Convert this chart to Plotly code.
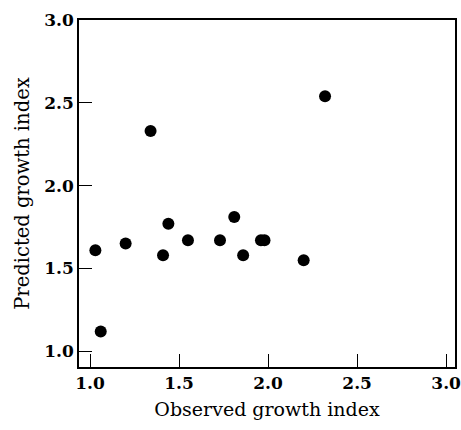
import plotly.graph_objects as go

observed = [1.03, 1.06, 1.20, 1.34, 1.41, 1.44, 1.55, 1.73, 1.81, 1.86, 1.96, 1.98, 2.20, 2.32]
predicted = [1.61, 1.12, 1.65, 2.33, 1.58, 1.77, 1.67, 1.67, 1.81, 1.58, 1.67, 1.67, 1.55, 2.54]
tick_vals = [1.0, 1.5, 2.0, 2.5, 3.0]
tick_text = ["1.0", "1.5", "2.0", "2.5", "3.0"]

fig = go.Figure(go.Scatter(
    x=observed, y=predicted, mode="markers",
    marker=dict(color="black", size=12),
    showlegend=False,
))

serif = "DejaVu Serif"
axis_common = dict(
    showgrid=False, zeroline=False, showline=True, linecolor="black", linewidth=1.5,
    mirror=True, ticks="inside", ticklen=13, tickwidth=1.2, tickcolor="black",
    tickvals=tick_vals, ticktext=tick_text, automargin=False,
    ticklabeloverflow="allow",
    tickfont=dict(family=serif, size=17, color="black", weight="bold"),
)

fig.update_layout(
    width=461, height=430,
    margin=dict(l=79, r=6, t=20, b=63),
    paper_bgcolor="white", plot_bgcolor="white",
    xaxis=dict(range=[0.938, 3.05], title=dict(text="Observed growth index",
               font=dict(family=serif, size=19, color="black"), standoff=11), **axis_common),
    yaxis=dict(range=[0.905, 3.0], title=dict(text="Predicted growth index",
               font=dict(family=serif, size=19.5, color="black"), standoff=9), **axis_common),
)

fig.write_html("out.html", config={"displayModeBar": False},
               post_script="document.body.style.margin='0';document.body.style.overflow='hidden';")
